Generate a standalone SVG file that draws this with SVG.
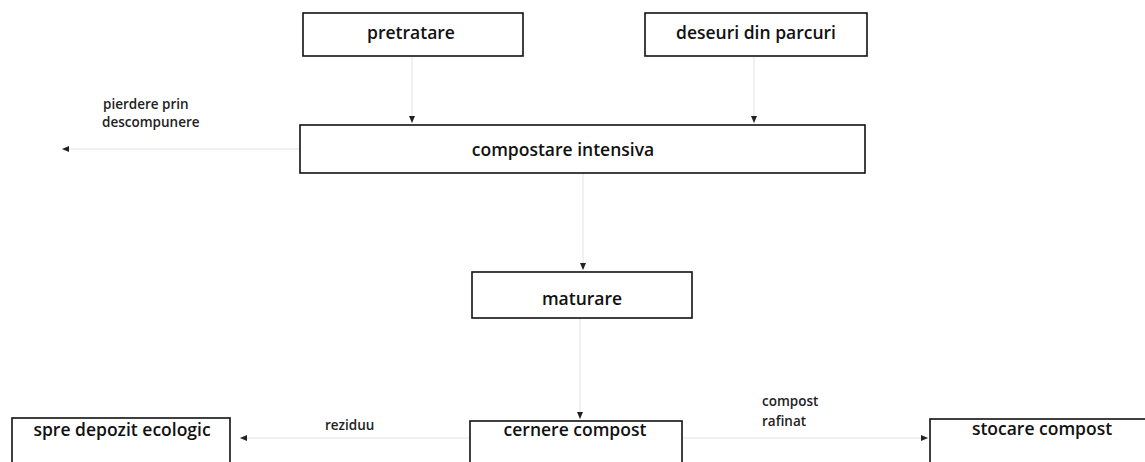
<svg xmlns="http://www.w3.org/2000/svg" width="1145" height="462" viewBox="0 0 1145 462">
<style>
.box{fill:#fff;stroke:#111;stroke-width:1.6}
.t{font-family:"Open Sans","Noto Sans","DejaVu Sans",sans-serif;font-size:17.5px;font-weight:600;fill:#111;text-anchor:middle}
.l{font-family:"Open Sans","Noto Sans","DejaVu Sans",sans-serif;font-size:13.5px;font-weight:600;fill:#222}
.c{fill:none;stroke:#e2e2e2;stroke-width:1}
</style>
<defs>
<marker id="ah" markerWidth="8" markerHeight="8" refX="7" refY="4" orient="auto" markerUnits="userSpaceOnUse">
<path d="M0,1 L7,4 L0,7 Z" fill="#222"/>
</marker>
</defs>
<rect width="1145" height="462" fill="#fff"/>
<g id="connectors">
<path class="c" d="M412,57 L412,123" marker-end="url(#ah)"/>
<path class="c" d="M754,57 L754,123" marker-end="url(#ah)"/>
<path class="c" d="M300,149 L62,149" marker-end="url(#ah)"/>
<path class="c" d="M583,173 L583,270" marker-end="url(#ah)"/>
<path class="c" d="M580,318 L580,419" marker-end="url(#ah)"/>
<path class="c" d="M470,438 L240,438" marker-end="url(#ah)"/>
<path class="c" d="M682,438 L928,438" marker-end="url(#ah)"/>
<text class="l" x="103" y="109">pierdere prin</text>
<text class="l" x="102" y="127">descompunere</text>
<text class="l" x="325" y="430">reziduu</text>
<text class="l" x="762" y="406">compost</text>
<text class="l" x="762" y="426">rafinat</text>
</g>
<g id="pretratare">
<rect class="box" x="303" y="13" width="220" height="43"/>
<text class="t" x="411" y="39">pretratare</text>
</g>
<g id="deseuri">
<rect class="box" x="645" y="13" width="222" height="43"/>
<text class="t" x="756" y="39">deseuri din parcuri</text>
</g>
<g id="compostare">
<rect class="box" x="300" y="125" width="565" height="48"/>
<text class="t" x="563" y="156">compostare intensiva</text>
</g>
<g id="maturare">
<rect class="box" x="472" y="272" width="220" height="46"/>
<text class="t" x="582" y="305">maturare</text>
</g>
<g id="depozit">
<rect class="box" x="12" y="418" width="218" height="60"/>
<text class="t" x="122" y="436">spre depozit ecologic</text>
</g>
<g id="cernere">
<rect class="box" x="470" y="421" width="212" height="60"/>
<text class="t" x="575" y="436">cernere compost</text>
</g>
<g id="stocare">
<rect class="box" x="930" y="419" width="225" height="60"/>
<text class="t" x="1042" y="435">stocare compost</text>
</g>
</svg>
